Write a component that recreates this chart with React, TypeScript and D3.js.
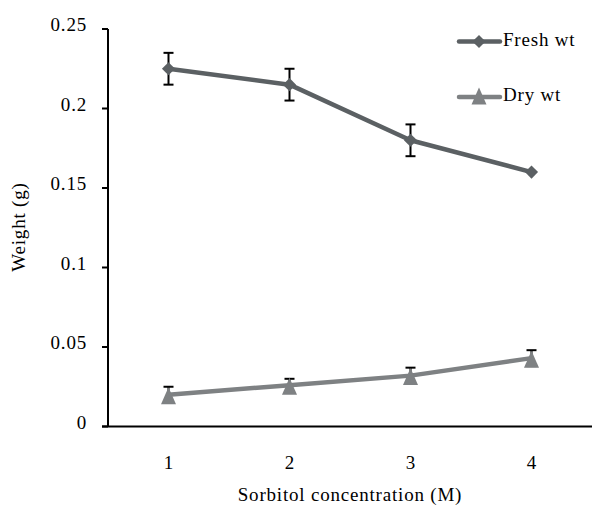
import React from "react";
import * as d3 from "d3";

const categories = ["1", "2", "3", "4"];
const freshValues = [0.225, 0.215, 0.18, 0.16];
const freshErrors = [0.01, 0.01, 0.01, 0];
const dryValues = [0.02, 0.026, 0.032, 0.043];
const dryErrors = [0.005, 0.004, 0.005, 0.005];
const yTicks = [0, 0.05, 0.1, 0.15, 0.2, 0.25];
const yTickLabels = ["0", "0.05", "0.1", "0.15", "0.2", "0.25"];
const seriesNames = ["Fresh wt", "Dry wt"];

const W = 592;
const H = 506;
const FONT = "'Liberation Serif', 'DejaVu Serif', serif";
const FRESH_COLOR = "#5b6063";
const DRY_COLOR = "#7e8183";
const FS = 19;
const LS = 0.8;

const trianglePath = "M0,-8.5L7.5,8.5L-7.5,8.5Z";

export default function App() {
  const x = d3.scaleBand<string>().domain(categories).range([108, 592]);
  const y = d3.scaleLinear().domain([0, 0.25]).range([426.5, 29]);
  const cx = (c: string) => (x(c) as number) + x.bandwidth() / 2;

  const line = d3
    .line<number>()
    .x((_, i) => cx(categories[i]))
    .y((v) => y(v));

  const diamond = d3.symbol().type(d3.symbolDiamond2).size(110);

  const errorBars = (vals: number[], errs: number[], key: string) =>
    vals.map((v, i) =>
      errs[i] > 0 ? (
        <g key={key + i} stroke="#000" strokeWidth={2}>
          <line x1={cx(categories[i])} x2={cx(categories[i])} y1={y(v + errs[i])} y2={y(v - errs[i])} />
          <line x1={cx(categories[i]) - 5} x2={cx(categories[i]) + 5} y1={y(v + errs[i])} y2={y(v + errs[i])} />
          <line x1={cx(categories[i]) - 5} x2={cx(categories[i]) + 5} y1={y(v - errs[i])} y2={y(v - errs[i])} />
        </g>
      ) : null
    );

  return (
    <svg width={W} height={H} style={{ position: "absolute", left: 0, top: 0, background: "#fff" }} fontFamily={FONT}>
      {/* axes */}
      <line x1={108} x2={108} y1={y(0.25)} y2={y(0)} stroke="#000" strokeWidth={2} />
      <line x1={102} x2={592} y1={y(0)} y2={y(0)} stroke="#000" strokeWidth={2} />
      {yTicks.map((t, i) => (
        <g key={"yt" + i}>
          <line x1={102} x2={108} y1={y(t)} y2={y(t)} stroke="#000" strokeWidth={2} />
          <text x={87} y={y(t) + 2} textAnchor="end" fontSize={FS} letterSpacing={LS} fill="#000">
            {yTickLabels[i]}
          </text>
        </g>
      ))}
      {categories.map((c) => (
        <text key={"xt" + c} x={cx(c)} y={469} textAnchor="middle" fontSize={FS} fill="#000">
          {c}
        </text>
      ))}
      <text x={350} y={501} textAnchor="middle" fontSize={FS} letterSpacing={LS} fill="#000">
        Sorbitol concentration (M)
      </text>
      <text transform={`translate(25,227) rotate(-90)`} textAnchor="middle" fontSize={FS} letterSpacing={LS} fill="#000">
        Weight (g)
      </text>

      {/* error bars behind markers */}
      {errorBars(freshValues, freshErrors, "fe")}
      {errorBars(dryValues, dryErrors, "de")}

      {/* series */}
      <path d={line(freshValues) || ""} fill="none" stroke={FRESH_COLOR} strokeWidth={4.5} strokeLinejoin="round" />
      {freshValues.map((v, i) => (
        <path key={"fd" + i} d={diamond() || ""} transform={`translate(${cx(categories[i])},${y(v)})`} fill={FRESH_COLOR} />
      ))}
      <path d={line(dryValues) || ""} fill="none" stroke={DRY_COLOR} strokeWidth={4.5} strokeLinejoin="round" />
      {dryValues.map((v, i) => (
        <path key={"dt" + i} d={trianglePath} transform={`translate(${cx(categories[i])},${y(v) + 1})`} fill={DRY_COLOR} />
      ))}

      {/* legend */}
      <g>
        <line x1={459} x2={500} y1={41.5} y2={41.5} stroke={FRESH_COLOR} strokeWidth={4.5} strokeLinecap="round" />
        <path d={diamond() || ""} transform="translate(479,41.5)" fill={FRESH_COLOR} />
        <text x={503} y={46} fontSize={FS} letterSpacing={LS} fill="#000">{seriesNames[0]}</text>
        <line x1={459} x2={500} y1={97} y2={97} stroke={DRY_COLOR} strokeWidth={4.5} strokeLinecap="round" />
        <path d={trianglePath} transform="translate(479,96)" fill={DRY_COLOR} />
        <text x={503} y={101} fontSize={FS} letterSpacing={LS} fill="#000">{seriesNames[1]}</text>
      </g>
    </svg>
  );
}
